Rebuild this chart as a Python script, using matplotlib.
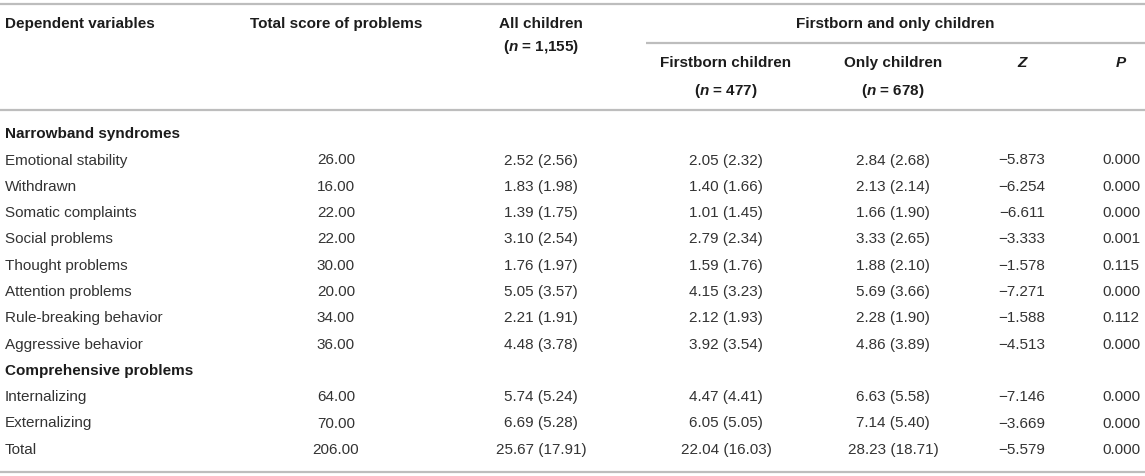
import matplotlib
matplotlib.use("Agg")
import matplotlib.pyplot as plt

plt.rcParams['font.family'] = ['Liberation Sans', 'DejaVu Sans']
plt.rcParams['mathtext.fontset'] = 'custom'
plt.rcParams['mathtext.it'] = 'Liberation Sans:italic:bold'
plt.rcParams['mathtext.rm'] = 'Liberation Sans:bold'

# ---- data ----
sections = ["Narrowband syndromes", "Comprehensive problems"]
narrow_vars = ["Emotional stability", "Withdrawn", "Somatic complaints", "Social problems",
               "Thought problems", "Attention problems", "Rule-breaking behavior", "Aggressive behavior"]
comp_vars = ["Internalizing", "Externalizing", "Total"]

total_score = ["26.00", "16.00", "22.00", "22.00", "30.00", "20.00", "34.00", "36.00",
               "64.00", "70.00", "206.00"]
all_children = ["2.52 (2.56)", "1.83 (1.98)", "1.39 (1.75)", "3.10 (2.54)", "1.76 (1.97)",
                "5.05 (3.57)", "2.21 (1.91)", "4.48 (3.78)", "5.74 (5.24)", "6.69 (5.28)",
                "25.67 (17.91)"]
firstborn = ["2.05 (2.32)", "1.40 (1.66)", "1.01 (1.45)", "2.79 (2.34)", "1.59 (1.76)",
             "4.15 (3.23)", "2.12 (1.93)", "3.92 (3.54)", "4.47 (4.41)", "6.05 (5.05)",
             "22.04 (16.03)"]
only_children = ["2.84 (2.68)", "2.13 (2.14)", "1.66 (1.90)", "3.33 (2.65)", "1.88 (2.10)",
                 "5.69 (3.66)", "2.28 (1.90)", "4.86 (3.89)", "6.63 (5.58)", "7.14 (5.40)",
                 "28.23 (18.71)"]
z_values = ["\u22125.873", "\u22126.254", "\u22126.611", "\u22123.333", "\u22121.578", "\u22127.271",
            "\u22121.588", "\u22124.513", "\u22127.146", "\u22123.669", "\u22125.579"]
p_values = ["0.000", "0.000", "0.000", "0.001", "0.115", "0.000", "0.112", "0.000",
            "0.000", "0.000", "0.000"]
n_all, n_first, n_only = "1,155", "477", "678"

# ---- layout ----
W, H = 1145, 476
fig = plt.figure(figsize=(W / 100, H / 100), dpi=100)
ax = fig.add_axes([0, 0, 1, 1])
ax.set_xlim(0, W)
ax.set_ylim(H, 0)
ax.axis('off')

FS = 11
body_color = '#333333'
head_color = '#1c1c1c'
line_color = '#bdbdbd'
BASE = 5.2  # offset from visual center to baseline

x_left = 5
x_total = 336
x_all = 541
x_first = 726
x_only = 893
x_z = 1022
x_p = 1121

def txt(x, yc, s, ha='center', bold=False, italic=False, color=None):
    ax.text(x, yc + BASE, s, ha=ha, va='baseline', fontsize=FS,
            fontweight='bold' if bold else 'normal',
            fontstyle='italic' if italic else 'normal',
            color=color or (head_color if bold else body_color))

def nlabel(n):
    return r"($\mathit{n}$ = " + n + ")"

# rules
lw = 1.6
ax.plot([0, W], [4, 4], color=line_color, lw=lw, solid_capstyle='butt')
ax.plot([646, W], [43, 43], color=line_color, lw=lw, solid_capstyle='butt')
ax.plot([0, W], [110, 110], color=line_color, lw=lw, solid_capstyle='butt')
ax.plot([0, W], [472, 472], color=line_color, lw=lw, solid_capstyle='butt')

# header
txt(x_left, 23, "Dependent variables", ha='left', bold=True)
txt(x_total, 23, "Total score of problems", bold=True)
txt(x_all, 23, "All children", bold=True)
txt(x_all, 46, nlabel(n_all), bold=True)
txt(895, 23, "Firstborn and only children", bold=True)
txt(x_first, 62, "Firstborn children", bold=True)
txt(x_first, 90, nlabel(n_first), bold=True)
txt(x_only, 62, "Only children", bold=True)
txt(x_only, 90, nlabel(n_only), bold=True)
txt(x_z, 62, "Z", bold=True, italic=True)
txt(x_p, 62, "P", bold=True, italic=True)

# body
y0 = 133.0
step = 26.3
row_labels = [(sections[0], None)] + [(v, i) for i, v in enumerate(narrow_vars)] + \
             [(sections[1], None)] + [(v, i + len(narrow_vars)) for i, v in enumerate(comp_vars)]
for r, (label, idx) in enumerate(row_labels):
    y = y0 + r * step
    if idx is None:
        txt(x_left, y, label, ha='left', bold=True)
        continue
    txt(x_left, y, label, ha='left')
    txt(x_total, y, total_score[idx])
    txt(x_all, y, all_children[idx])
    txt(x_first, y, firstborn[idx])
    txt(x_only, y, only_children[idx])
    txt(x_z, y, z_values[idx])
    txt(x_p, y, p_values[idx])

fig.savefig("out.png", dpi=100)
